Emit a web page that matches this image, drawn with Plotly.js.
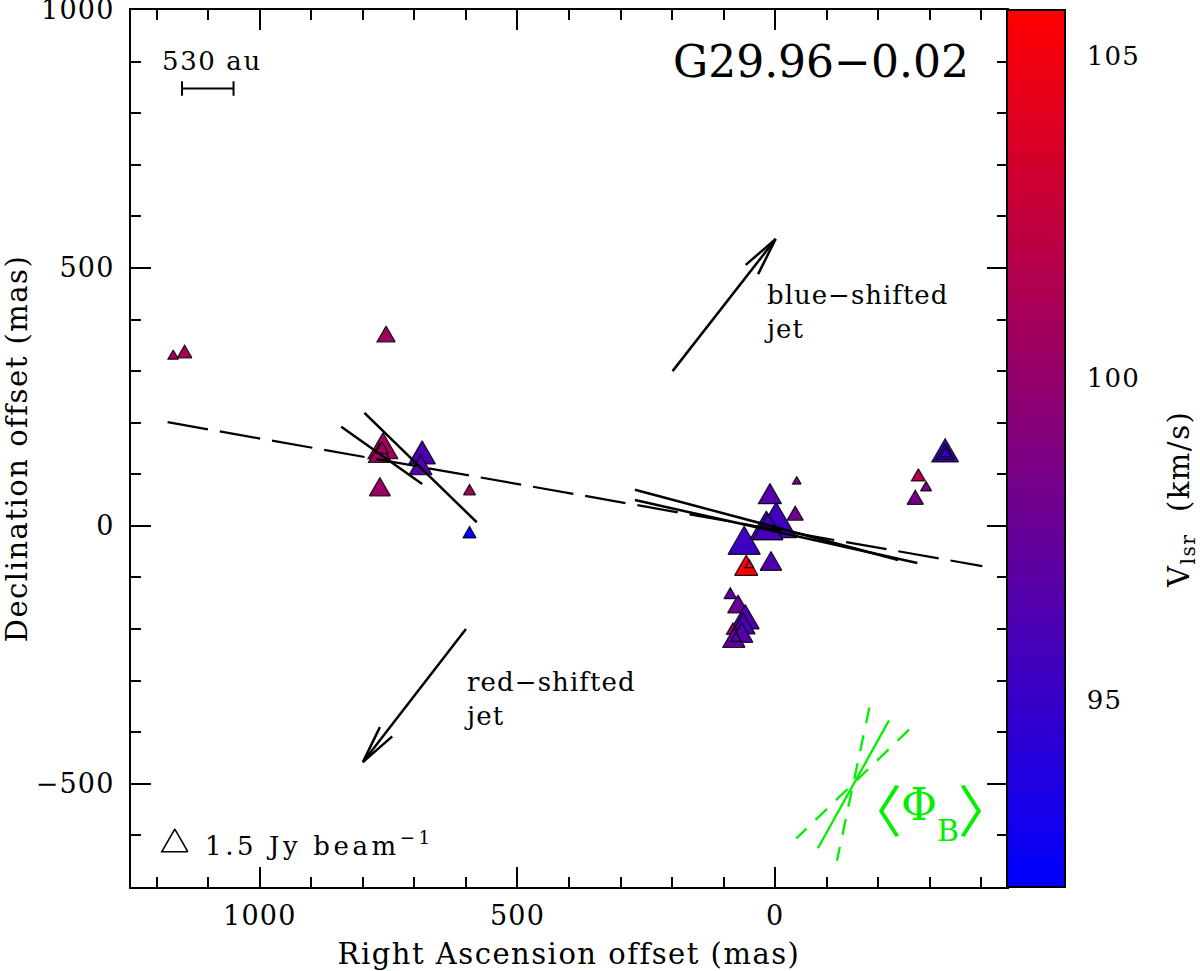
<!DOCTYPE html>
<html>
<head>
<meta charset="utf-8">
<script src="https://cdn.plot.ly/plotly-3.0.1.min.js"></script>
<style>
html,body{margin:0;padding:0;background:#fff}
.main-svg text{letter-spacing:1.2px}
.xtitle,.ytitle{letter-spacing:1.5px !important}
.annotation[data-index="0"] text{letter-spacing:0 !important}
.annotation[data-index="1"] text{letter-spacing:1.6px !important}
.annotation[data-index="2"] text{letter-spacing:1px !important}
.annotation[data-index="3"] text{letter-spacing:1.1px !important}
.annotation[data-index="4"] text{letter-spacing:3.6px !important}
.annotation[data-index="9"] text{letter-spacing:1.5px !important}
</style>
</head>
<body>
<div id="chart" style="width:1200px;height:971px"></div>
<script>
// Maser features: offsets (mas), LSR velocity (km/s), peak intensity (Jy/beam)
const spotRA  = [-330,-330,-331,-278,-293,-272,-42,-39,10,-2,17,14,60,56,50,8,87,72,58,62,82,65,80,76,1168,1146,755,761,767,763,767,685,688,593,593];
const spotDec = [139,139,140,95,74,51,86,20,56,0,-8,-10,-37,-83,-76,-74,-134,-157,-184,-196,-203,-213,-223,-218,329,334,367,147,136,148,70,135,112,67,-16];
const spotVel = [95.6,95.6,95.0,101.7,98.4,98.2,98.4,98.2,96.6,95.5,95.7,95.7,95.4,105.6,103.5,96.4,97.0,97.7,96.3,96.0,99.5,96.5,97.2,96.8,101.0,101.0,100.4,100.8,100.6,100.6,100.4,96.2,96.5,100.8,92.2];
const spotInt = [1.58,0.72,0.27,0.435,0.27,0.59,0.168,0.59,1.2,3.73,2.42,2.0,2.32,1.2,0.18,1.04,0.36,0.95,1.74,1.28,0.39,1.14,1.1,0.25,0.25,0.48,0.74,2.0,1.17,0.39,0.98,1.58,1.17,0.32,0.39];

// Linear polarization vectors
const vecRA  = [[797,579],[842,685],[272,-239],[272,-276]];
const vecDec = [[219,7],[192,81],[70,-66],[50,-72]];
// Best-fit dashed line
const fitRA  = [1179,-402];
const fitDec = [201,-78];
// Outflow arrows: tail, tip, barb ends
const arrowRA  = [[199,-1,57,-1,33],[600,800,743,800,767]];
const arrowDec = [[300,556,506,556,488],[-200,-458,-408,-458,-390]];
// Mean magnetic field direction and its uncertainty
const fieldRA  = [-221,-83];
const fieldDec = [-377,-625];
const fieldErrRA  = [[-183,-120],[-260,-41]];
const fieldErrDec = [[-352,-649],[-395,-606]];
// 530 au scale bar
const scaleRA  = [1151,1151,1151,1051,1051,1051];
const scaleDec = [862,834,848,848,862,834];
// Reference triangle 1.5 Jy/beam
const refRA = 1165, refDec = -617, refInt = 1.5;

const cbMin = 92.09, cbMax = 105.71;
const cbMajorTicks = [95,100,105];
const cbMinorTicks = [93,94,96,97,98,99,101,102,103,104];
const FONT = '"DejaVu Serif", serif';
const BLACK = '#000';
const GREEN = '#00f000';

const plotL = 131, plotR = 1007, plotT = 10, plotB = 887;
const pxPerMasX = (plotR - plotL) / 1700;
const pxPerMasY = (plotB - plotT) / 1700;

function velColor(v) {
  const t = Math.max(0, Math.min(1, (v - cbMin) / (cbMax - cbMin)));
  return `rgb(${Math.round(255*t)},0,${Math.round(255*(1-t))})`;
}
function triangle(ra, dec, flux) {
  const w = 26 * Math.sqrt(flux / 1.5);
  const h = w * Math.sqrt(3) / 2;
  const dx = (w / 2) / pxPerMasX, up = (2*h/3) / pxPerMasY, dn = (h/3) / pxPerMasY;
  return { x: [ra-dx, ra+dx, ra, ra-dx], y: [dec-dn, dec-dn, dec+up, dec-dn] };
}
function line(x, y, color, width, dash) {
  return {type:'scatter', mode:'lines', x, y, hoverinfo:'skip', showlegend:false,
          line:{color, width, dash: dash || 'solid'}};
}

const traces = [];
traces.push({
  type:'scatter', mode:'markers', x:spotRA, y:spotDec, showlegend:false,
  marker:{
    symbol:'triangle-up',
    size:spotInt.map(f => 0.75 * 26 * Math.sqrt(f/1.5) / 1.155),
    color:spotVel, cmin:cbMin, cmax:cbMax,
    colorscale:[[0,'rgb(0,0,255)'],[1,'rgb(255,0,0)']],
    line:{width:0},
    colorbar:{
      x:1, xanchor:'left', xpad:0, y:0.5, yanchor:'middle', ypad:0, len:1, thickness:58,
      outlinewidth:2, outlinecolor:BLACK,
      tickmode:'array', tickvals:cbMajorTicks, ticktext:cbMajorTicks.map(String),
      ticks:'outside', ticklen:16, tickwidth:1, tickcolor:'rgba(0,0,0,0)',
      tickfont:{family:FONT, size:26, color:BLACK}
    }
  }
});
spotRA.forEach((ra, i) => {
  const t = triangle(ra, spotDec[i], spotInt[i]);
  traces.push({type:'scatter', mode:'lines', x:t.x, y:t.y, fill:'toself',
    fillcolor:velColor(spotVel[i]), line:{color:'rgba(0,0,0,0.85)', width:1.2},
    hoverinfo:'skip', showlegend:false});
});
vecRA.forEach((x, i) => traces.push(line(x, vecDec[i], BLACK, 2.5)));
traces.push(line(fitRA, fitDec, BLACK, 2.2, '41px,12px'));
arrowRA.forEach((x, i) => {
  traces.push(line(x.slice(0,2), arrowDec[i].slice(0,2), BLACK, 2.5));
  traces.push(line(x.slice(2), arrowDec[i].slice(2), BLACK, 2.5));
});
traces.push(line(fieldRA, fieldDec, GREEN, 2.3));
fieldErrRA.forEach((x, i) => traces.push(line(x, fieldErrDec[i], GREEN, 2.3, '16px,12.5px')));
traces.push(line(scaleRA, scaleDec, BLACK, 2));
const ref = triangle(refRA, refDec, refInt);
traces.push(line(ref.x, ref.y, BLACK, 1.6));

function note(text, x, y, size, color, xanchor, family) {
  return {text, x, y, xref:'x', yref:'y', showarrow:false, xanchor:xanchor||'left', yanchor:'middle',
          align:'left', borderpad:0, font:{family:family||FONT, size, color:color||BLACK}};
}
const annotations = [
  note('G29.96\u22120.02', 200, 900, 44),
  note('530 au', 1191, 902, 26),
  note('blue\u2212shifted<br>jet', 24, 415, 26),
  note('red\u2212shifted<br>jet', 606, -335, 26),
  note('1.5 Jy beam<sup>\u22121</sup>', 1108, -617, 26),
  note('\u3008', -191.5, -545, 56, GREEN, 'center', '"Noto Sans CJK SC"'),
  note('\u03A6', -280, -540, 44, GREEN, 'center'),
  note('B', -335, -590, 30, GREEN, 'center'),
  note('\u3009', -409, -545, 56, GREEN, 'center', '"Noto Sans CJK SC"'),
  {text:'V<sub>lsr</sub>  (km/s)', xref:'paper', yref:'paper',
   x:(1181-plotL)/(plotR-plotL), y:(plotB-500)/(plotB-plotT), showarrow:false,
   textangle:-90, xanchor:'center', yanchor:'middle',
   font:{family:FONT, size:29, color:BLACK}}
];

const cbRight = 1 + 58 / (plotR - plotL);
function cbTick(v, len) {
  const yf = (v-cbMin)/(cbMax-cbMin);
  return {type:'line', xref:'paper', yref:'paper',
    x0:cbRight - len/(plotR-plotL), x1:cbRight, y0:yf, y1:yf,
    line:{color:BLACK, width:2}};
}
const shapes = cbMinorTicks.map(v => cbTick(v, 10)).concat(cbMajorTicks.map(v => cbTick(v, 19)));

const axisBase = {
  mirror:'ticks', showline:true, linecolor:BLACK, linewidth:2, zeroline:false, showgrid:false,
  ticks:'inside', ticklen:20, tickwidth:2, tickcolor:BLACK,
  tickfont:{family:FONT, size:27, color:BLACK},
  ticklabeloverflow:'allow',
  dtick:500, tick0:0,
  minor:{dtick:100, ticks:'inside', ticklen:10, tickwidth:2, tickcolor:BLACK, showgrid:false}
};
const titleFont = {family:FONT, size:29, color:BLACK};
const layout = {
  width:1200, height:971,
  margin:{l:plotL, r:1200-plotR, t:plotT, b:971-plotB, autoexpand:false},
  paper_bgcolor:'#fff', plot_bgcolor:'#fff', showlegend:false,
  xaxis:Object.assign({}, axisBase, {range:[1250,-450], ticklabelstandoff:4, title:{text:'Right Ascension offset (mas)', standoff:14, font:titleFont}}),
  yaxis:Object.assign({}, axisBase, {range:[-700,1000], ticklabelstandoff:9, title:{text:'Declination offset (mas)', standoff:11, font:titleFont}}),
  annotations, shapes
};
Plotly.newPlot('chart', traces, layout, {displayModeBar:false, responsive:false});
</script>
</body>
</html>
